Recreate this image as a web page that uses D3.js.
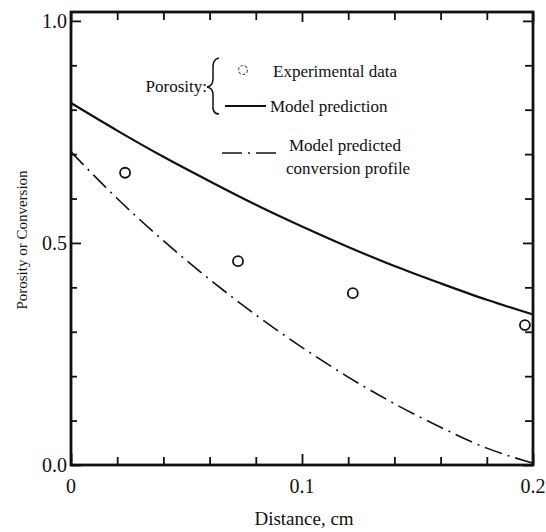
<!DOCTYPE html>
<html>
<head>
<meta charset="utf-8">
<script src="https://cdn.jsdelivr.net/npm/d3@7"></script>
<style>
  body { margin: 0; background: #fff; }
  text { font-family: "Liberation Serif", "Times New Roman", serif; fill: #111; }
</style>
</head>
<body>
<script>
// experimental porosity points
var expX = [0.0234, 0.0723, 0.122, 0.1965];
var expY = [0.658, 0.459, 0.387, 0.315];

// model curves
var curveX = [0, 0.02, 0.04, 0.06, 0.08, 0.1, 0.12, 0.14, 0.16, 0.18, 0.2];
var porosityModel = [0.815, 0.753, 0.694, 0.639, 0.586, 0.537, 0.491, 0.448, 0.409, 0.372, 0.339];
var conversionModel = [0.705, 0.6, 0.505, 0.418, 0.338, 0.265, 0.198, 0.138, 0.085, 0.038, 0.004];

// tick values
var xMajor = [0, 0.1, 0.2];
var xMinor = [0.02, 0.04, 0.06, 0.08, 0.12, 0.14, 0.16, 0.18];
var yMajor = [0, 0.5, 1.0];
var yMinor = [0.1, 0.2, 0.3, 0.4, 0.6, 0.7, 0.8, 0.9];

var width = 546, height = 532;
var plotL = 71, plotR = 533, plotT = 12, plotB = 465;

var x = d3.scaleLinear().domain([0, 0.2]).range([plotL, plotR]);
var y = d3.scaleLinear().domain([0, 1.02]).range([plotB, plotT]);

var svg = d3.select("body").append("svg")
  .attr("width", width)
  .attr("height", height);

//frame
svg.append("rect")
  .attr("x", plotL).attr("y", plotT)
  .attr("width", plotR - plotL).attr("height", plotB - plotT)
  .style("fill", "none").style("stroke", "#111").style("stroke-width", 2.8);

//inward ticks on all four sides
var tickSides = [
  {axis: d3.axisBottom(x), t: "translate(0," + plotB + ")", vals: xMajor, len: -11},
  {axis: d3.axisBottom(x), t: "translate(0," + plotB + ")", vals: xMinor, len: -8},
  {axis: d3.axisTop(x), t: "translate(0," + plotT + ")", vals: xMajor, len: -10},
  {axis: d3.axisTop(x), t: "translate(0," + plotT + ")", vals: xMinor, len: -8},
  {axis: d3.axisLeft(y), t: "translate(" + plotL + ",0)", vals: yMajor, len: -10},
  {axis: d3.axisLeft(y), t: "translate(" + plotL + ",0)", vals: yMinor, len: -6},
  {axis: d3.axisRight(y), t: "translate(" + plotR + ",0)", vals: yMajor, len: -10},
  {axis: d3.axisRight(y), t: "translate(" + plotR + ",0)", vals: yMinor, len: -8}
];
tickSides.forEach(function(s) {
  var g = svg.append("g")
    .attr("transform", s.t)
    .call(s.axis.tickValues(s.vals).tickSize(s.len).tickFormat(""));
  g.select(".domain").remove();
  g.selectAll("line").style("stroke", "#111").style("stroke-width", 1.8);
});

//tick labels
svg.selectAll(".xlab")
  .data(xMajor)
  .enter().append("text")
  .attr("x", function(d) { return x(d); })
  .attr("y", plotB + 28)
  .attr("text-anchor", "middle")
  .attr("font-size", 20)
  .text(function(d) { return d === 0 ? "0" : d3.format(".1f")(d); });

svg.selectAll(".ylab")
  .data(yMajor)
  .enter().append("text")
  .attr("x", plotL - 4)
  .attr("y", function(d) { return y(d); })
  .attr("dy", "0.35em")
  .attr("text-anchor", "end")
  .attr("font-size", 20)
  .text(function(d) { return d3.format(".1f")(d); });

//axis titles
svg.append("text")
  .attr("x", 304).attr("y", 525)
  .attr("text-anchor", "middle")
  .attr("font-size", 19)
  .text("Distance, cm");

svg.append("text")
  .attr("transform", "translate(27,240)rotate(-90)")
  .attr("text-anchor", "middle")
  .attr("font-size", 15)
  .text("Porosity or Conversion");

//model curves
var line = d3.line()
  .x(function(d) { return x(d[0]); })
  .y(function(d) { return y(d[1]); })
  .curve(d3.curveMonotoneX);

svg.append("path")
  .datum(d3.zip(curveX, porosityModel))
  .attr("d", line)
  .style("fill", "none").style("stroke", "#111").style("stroke-width", 2.2);

svg.append("path")
  .datum(d3.zip(curveX, conversionModel))
  .attr("d", line)
  .style("fill", "none").style("stroke", "#111").style("stroke-width", 1.6)
  .style("stroke-dasharray", "18,6,2,6");

//experimental points
svg.selectAll(".pt")
  .data(d3.zip(expX, expY))
  .enter().append("circle")
  .attr("cx", function(d) { return x(d[0]); })
  .attr("cy", function(d) { return y(d[1]); })
  .attr("r", 5)
  .style("fill", "#fff").style("stroke", "#111").style("stroke-width", 1.8);

//legend
var leg = svg.append("g").attr("font-size", 17);
leg.append("text").attr("x", 207).attr("y", 92).attr("text-anchor", "end").text("Porosity:");
leg.append("path")
  .attr("d", "M219,58 Q212,59 213,70 L213,79 Q213,86 207,87 Q213,88 213,95 L213,104 Q212,114 219,114")
  .style("fill", "none").style("stroke", "#111").style("stroke-width", 1.5);
leg.append("circle").attr("cx", 243).attr("cy", 70).attr("r", 4.5)
  .style("fill", "none").style("stroke", "#666").style("stroke-width", 1.2)
  .style("stroke-dasharray", "3,1.5");
leg.append("text").attr("x", 273).attr("y", 77).text("Experimental data");
leg.append("line").attr("x1", 225).attr("x2", 266).attr("y1", 106).attr("y2", 106)
  .style("stroke", "#111").style("stroke-width", 2);
leg.append("text").attr("x", 270).attr("y", 112).text("Model prediction");
leg.append("line").attr("x1", 222).attr("x2", 280).attr("y1", 153).attr("y2", 153)
  .style("stroke", "#111").style("stroke-width", 1.6).style("stroke-dasharray", "20,6,2,6");
leg.append("text").attr("x", 289).attr("y", 151).text("Model predicted");
leg.append("text").attr("x", 286).attr("y", 174).text("conversion profile");
</script>
</body>
</html>
